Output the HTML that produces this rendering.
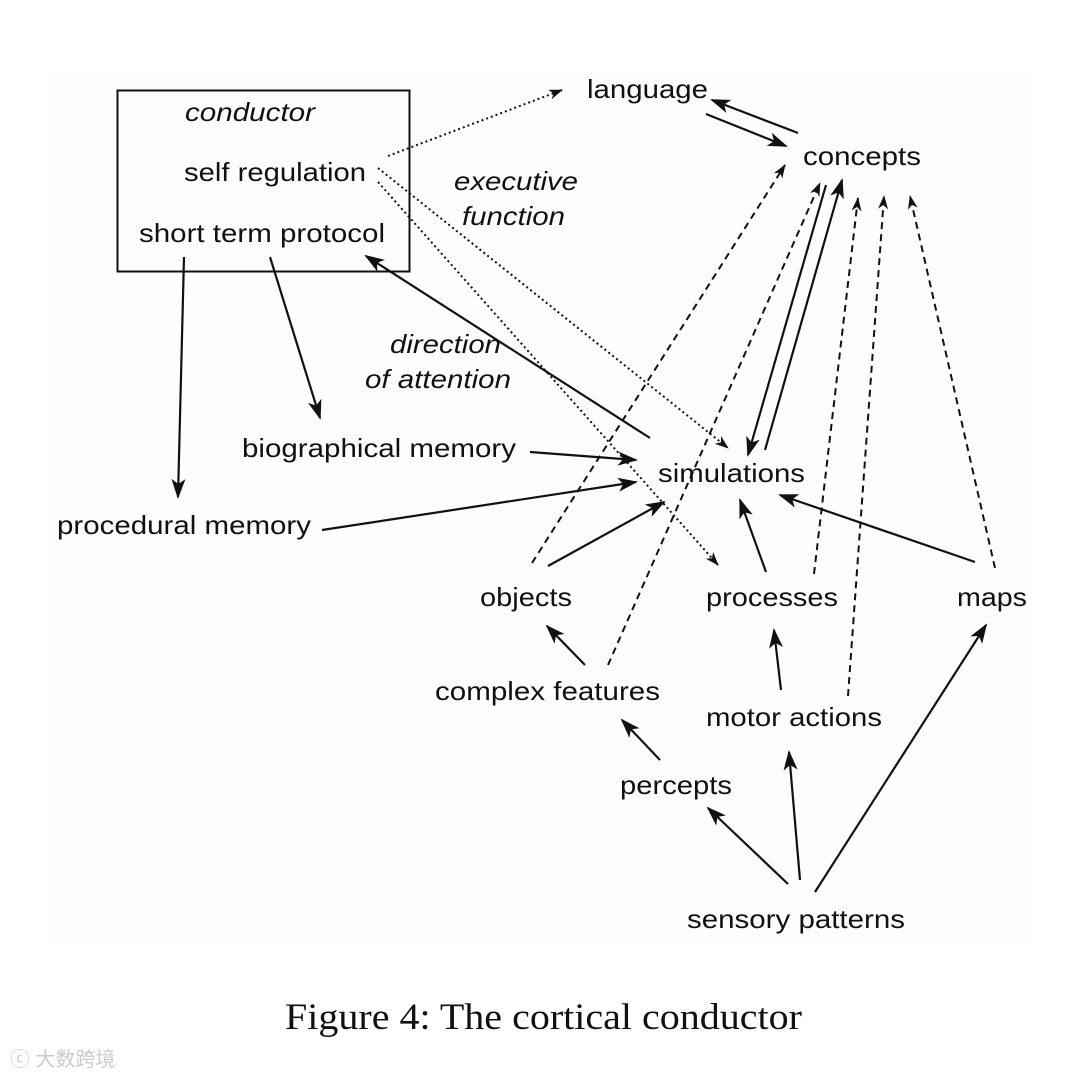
<!DOCTYPE html>
<html><head><meta charset="utf-8"><style>
body{margin:0;background:#fff}
svg{display:block}
text{font-family:"Liberation Sans",Arial,sans-serif;font-size:26px;fill:#111}
.i{font-style:italic}
</style></head><body>
<svg width="1071" height="1078" viewBox="0 0 1071 1078" xmlns="http://www.w3.org/2000/svg">
<defs>
<marker id="a" viewBox="0 0 20 14" refX="18" refY="7" markerWidth="20" markerHeight="14" markerUnits="userSpaceOnUse" orient="auto">
<path d="M0,0 L20,7 L0,14 L5,7 Z" fill="#111"/>
</marker>
<marker id="s" viewBox="0 0 14 10" refX="13" refY="5" markerWidth="14" markerHeight="10" markerUnits="userSpaceOnUse" orient="auto">
<path d="M0,0 L14,5 L0,10 L4,5 Z" fill="#111"/>
</marker>
</defs>
<rect x="50" y="75" width="980" height="868" fill="#fdfdfd"/>
<rect x="117.5" y="90.5" width="292" height="181" fill="none" stroke="#111" stroke-width="2"/>
<g stroke="#111" fill="none">
<g stroke-width="2" stroke-dasharray="2,3">
<line x1="388" y1="156" x2="562" y2="90" marker-end="url(#s)"/>
<line x1="378" y1="168" x2="728" y2="448" marker-end="url(#s)"/>
<line x1="378" y1="182" x2="718" y2="565" marker-end="url(#s)"/>
</g>
<g stroke-width="2" stroke-dasharray="7,5">
<line x1="532" y1="563" x2="785" y2="165" marker-end="url(#s)"/>
<line x1="608" y1="665" x2="820" y2="183" marker-end="url(#s)"/>
<line x1="814" y1="574" x2="858" y2="198" marker-end="url(#s)"/>
<line x1="848" y1="696" x2="884" y2="196" marker-end="url(#s)"/>
<line x1="995" y1="568" x2="910" y2="196" marker-end="url(#s)"/>
</g>
<g stroke-width="2.2">
<line x1="798" y1="133" x2="712" y2="100" marker-end="url(#a)"/>
<line x1="706" y1="114" x2="786" y2="146" marker-end="url(#a)"/>
<line x1="184" y1="257" x2="178" y2="497" marker-end="url(#a)"/>
<line x1="270" y1="257" x2="320" y2="418" marker-end="url(#a)"/>
<line x1="650" y1="438" x2="366" y2="256" marker-end="url(#a)"/>
<line x1="530" y1="452" x2="636" y2="460" marker-end="url(#a)"/>
<line x1="322" y1="530" x2="636" y2="482" marker-end="url(#a)"/>
<line x1="548" y1="566" x2="664" y2="502" marker-end="url(#a)"/>
<line x1="585" y1="665" x2="547" y2="626" marker-end="url(#a)"/>
<line x1="826" y1="185" x2="748" y2="455" marker-end="url(#a)"/>
<line x1="765" y1="450" x2="842" y2="180" marker-end="url(#a)"/>
<line x1="766" y1="572" x2="740" y2="500" marker-end="url(#a)"/>
<line x1="975" y1="562" x2="780" y2="495" marker-end="url(#a)"/>
<line x1="781" y1="690" x2="774" y2="630" marker-end="url(#a)"/>
<line x1="660" y1="760" x2="622" y2="720" marker-end="url(#a)"/>
<line x1="788" y1="884" x2="708" y2="808" marker-end="url(#a)"/>
<line x1="800" y1="880" x2="789" y2="752" marker-end="url(#a)"/>
<line x1="815" y1="892" x2="986" y2="625" marker-end="url(#a)"/>
</g>
</g>
<g lengthAdjust="spacingAndGlyphs">
<text x="587" y="98" textLength="121" lengthAdjust="spacingAndGlyphs">language</text>
<text x="803" y="165" textLength="118" lengthAdjust="spacingAndGlyphs">concepts</text>
<text x="185" y="121" class="i" textLength="130" lengthAdjust="spacingAndGlyphs">conductor</text>
<text x="184" y="181" textLength="182" lengthAdjust="spacingAndGlyphs">self regulation</text>
<text x="139" y="242" textLength="246" lengthAdjust="spacingAndGlyphs">short term protocol</text>
<text x="454" y="190" class="i" textLength="124" lengthAdjust="spacingAndGlyphs">executive</text>
<text x="462" y="225" class="i" textLength="103" lengthAdjust="spacingAndGlyphs">function</text>
<text x="390" y="353" class="i" textLength="111" lengthAdjust="spacingAndGlyphs">direction</text>
<text x="365" y="388" class="i" textLength="146" lengthAdjust="spacingAndGlyphs">of attention</text>
<text x="242" y="457" textLength="274" lengthAdjust="spacingAndGlyphs">biographical memory</text>
<text x="658" y="482" textLength="147" lengthAdjust="spacingAndGlyphs">simulations</text>
<text x="57" y="534" textLength="254" lengthAdjust="spacingAndGlyphs">procedural memory</text>
<text x="480" y="606" textLength="92" lengthAdjust="spacingAndGlyphs">objects</text>
<text x="706" y="606" textLength="132" lengthAdjust="spacingAndGlyphs">processes</text>
<text x="957" y="606" textLength="70" lengthAdjust="spacingAndGlyphs">maps</text>
<text x="435" y="700" textLength="225" lengthAdjust="spacingAndGlyphs">complex features</text>
<text x="706" y="726" textLength="176" lengthAdjust="spacingAndGlyphs">motor actions</text>
<text x="620" y="794" textLength="112" lengthAdjust="spacingAndGlyphs">percepts</text>
<text x="687" y="928" textLength="218" lengthAdjust="spacingAndGlyphs">sensory patterns</text>
</g>
<text x="285" y="1029" textLength="517" lengthAdjust="spacingAndGlyphs" style="font-family:'Liberation Serif','Times New Roman',serif;font-size:37px">Figure 4: The cortical conductor</text>
<text x="10" y="1066" style="font-family:'Liberation Sans','Noto Sans CJK SC',sans-serif;font-size:20px;fill:#ccc">&#x24D2; 大数跨境</text>
</svg>
</body></html>
